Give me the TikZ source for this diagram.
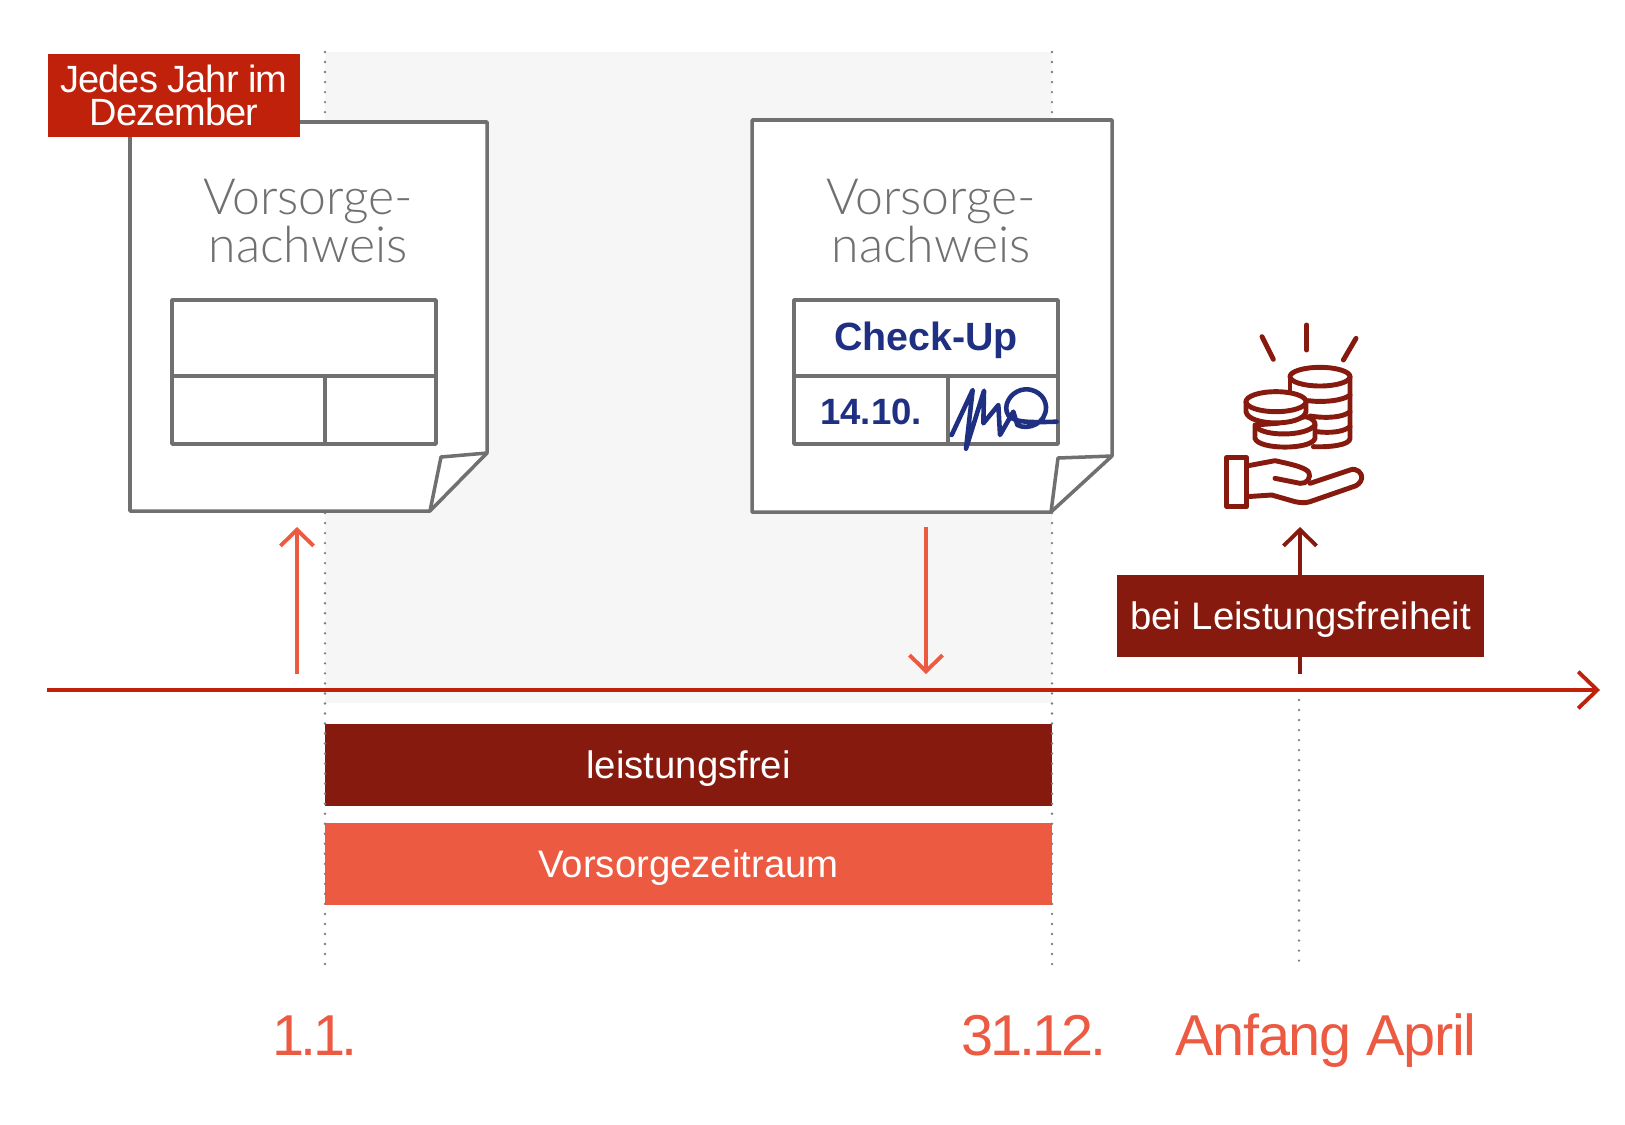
\documentclass[tikz,border=0pt]{standalone}
\usepackage{fontspec}
\setmainfont{Liberation Sans}
\newfontfamily\thinfont{Lato Light}
\usetikzlibrary{arrows.meta}
\definecolor{hellgrau}{HTML}{F6F6F6}
\definecolor{papiergrau}{HTML}{707070}
\definecolor{rot}{HTML}{C0210B}
\definecolor{dunkelrot}{HTML}{871A0E}
\definecolor{koralle}{HTML}{EC5A42}
\definecolor{tinte}{HTML}{1F2F82}
\tikzset{
	paper/.style={draw=papiergrau, fill=white, line width=1pt, line join=round},
	dots/.style={draw=papiergrau!90, line width=0.75pt, line cap=round, dash pattern=on 0pt off 2.85pt},
	pfeil/.style={-{Straight Barb[length=4.6pt, width=9.4pt]}, line width=1.1pt},
	bar/.style={inner sep=0pt, minimum width=7.27cm, minimum height=0.82cm, text=white, text height=7.4pt, text depth=0pt, font=\fontsize{10.9}{12}\selectfont},
	titel/.style={align=center, text=papiergrau, inner sep=0pt, font=\thinfont\fontsize{14.2}{13.9}\selectfont},
	datum/.style={text=koralle, inner sep=0pt, text height=12pt, text depth=0pt},
	icon/.style={draw=dunkelrot, line width=1.4pt, line cap=round, line join=round},
}
\begin{document}
\begin{tikzpicture}[x=0.01cm, y=-0.01cm]
	\useasboundingbox (0, 0) rectangle (1625, 1124);

	% Background
	\fill[hellgrau] (325, 52) rectangle (1052, 703);

	% Bars
	\node[bar, fill=dunkelrot] (leistungsfrei) at (688.5, 765) {leistungsfrei};
	\node[bar, fill=koralle] (vorsorgezeitraum) at (688.5, 864) {Vorsorgezeitraum};

	% Dotted lines
	\coordinate (jan top) at (325, 52);
	\coordinate (jan bottom) at (325, 968);
	\coordinate (dez top) at (1052, 52);
	\coordinate (dez bottom) at (1052, 968);
	\coordinate (apr top) at (1299, 690);
	\coordinate (apr bottom) at (1299, 968);
	\draw[dots] (jan top) -- (jan bottom);
	\draw[dots] (dez top) -- (dez bottom);
	\draw[dots] (apr top) -- (apr bottom);

	% Time axis
	\coordinate (achse start) at (47, 690);
	\coordinate (achse end) at (1600, 690);
	\draw[-{Straight Barb[length=5.4pt, width=10.4pt]}, rot, line width=1.1pt] (achse start) -- (achse end);

	% Document left
	\draw[paper] (130, 122) -- (487, 122) -- (487, 453) -- (430, 511) -- (130, 511) -- cycle;
	\draw[paper, fill=none] (487, 453) -- (441, 457) -- (430, 511);
	\node[titel] (titel links) at (308, 221) {Vorsorge-\\nachweis};
	\draw[paper] (172, 300) rectangle (436, 444);
	\draw[paper] (172, 376) -- (436, 376);
	\draw[paper] (325, 376) -- (325, 444);

	% Document right
	\draw[paper] (752, 120) -- (1112, 120) -- (1112, 456) -- (1051, 512) -- (752, 512) -- cycle;
	\draw[paper, fill=none] (1112, 456) -- (1058, 458) -- (1051, 512);
	\node[titel] (titel rechts) at (931, 221) {Vorsorge-\\nachweis};
	\draw[paper] (794, 300) rectangle (1058, 444);
	\draw[paper] (794, 376) -- (1058, 376);
	\draw[paper] (948, 376) -- (948, 444);
	\node[text=tinte, inner sep=0pt, font=\bfseries\fontsize{11.2}{12}\selectfont] (checkup) at (926, 340) {Check-Up};
	\node[text=tinte, inner sep=0pt, font=\bfseries\fontsize{10.4}{12}\selectfont] (datum check) at (871, 412) {14.10.};

	% Signature
	\begin{scope}[shift={(780, 290)}, scale=1/3]
		\draw[tinte, line width=1.3pt, line join=round, line cap=round] (515, 435) -- (578, 300) -- (558, 476) -- (612, 302) -- (610, 400) -- (655, 345) -- (660, 435) -- (700, 365) -- (712, 405) .. controls (745, 422) and (800, 400) .. (798, 350) .. controls (796, 315) and (762, 296) .. (735, 298) .. controls (700, 300) and (672, 335) .. (680, 365) .. controls (688, 398) and (740, 398) .. (830, 395);
	\end{scope}

	% Label top left
	\node[fill=rot, text=white, inner sep=0pt, minimum width=2.52cm, minimum height=0.83cm, align=center, font=\fontsize{10.8}{9.4}\selectfont\addfontfeature{LetterSpace=-2.5}] (dezember) at (174, 95.5) {Jedes Jahr im\\Dezember};

	% Arrows
	\coordinate (links unten) at (297, 674);
	\coordinate (links oben) at (297, 527);
	\coordinate (mitte oben) at (926, 527);
	\coordinate (mitte unten) at (926, 674);
	\coordinate (april unten) at (1300, 674);
	\coordinate (april oben) at (1300, 527);
	\draw[pfeil, koralle] (links unten) -- (links oben);
	\draw[pfeil, koralle] (mitte oben) -- (mitte unten);
	\draw[pfeil, dunkelrot] (april unten) -- (april oben);
	\node[fill=dunkelrot, text=white, inner sep=0pt, minimum width=3.67cm, minimum height=0.82cm, text height=7.4pt, text depth=0pt, font=\fontsize{10.9}{12}\selectfont] (freiheit) at (1300.5, 616) {bei Leistungsfreiheit};

	% Coins and hand
	\begin{scope}[shift={(1180, 310)}, scale=1/3]
		\draw[icon] (246, 80) -- (280, 148);
		\draw[icon] (380, 45) -- (380, 120);
		\draw[icon] (528, 85) -- (490, 150);
		\draw[icon] (420, 200) ellipse [x radius=90, y radius=28];
		\draw[icon] (510, 200) -- (510, 385) .. controls (510, 405) and (450, 412) .. (400, 410);
		\draw[icon] (330, 205) -- (330, 240);
		\draw[icon] (510, 255) .. controls (490, 272) and (430, 278) .. (385, 272);
		\draw[icon] (510, 305) .. controls (490, 322) and (440, 326) .. (390, 318);
		\draw[icon] (510, 350) .. controls (490, 366) and (450, 370) .. (410, 365);
		\draw[icon, fill=white] (225, 345) -- (225, 385) .. controls (235, 420) and (395, 420) .. (405, 385) -- (405, 340) .. controls (400, 325) and (385, 322) .. (375, 320) -- (290, 340) -- cycle;
		\draw[icon] (228, 350) .. controls (250, 380) and (380, 380) .. (405, 345);
		\draw[icon, fill=white] (198, 275) -- (198, 305) .. controls (205, 350) and (370, 350) .. (378, 305) -- (378, 275);
		\draw[icon, fill=white] (288, 275) ellipse [x radius=90, y radius=30];
		\draw[icon] (140, 443) rectangle (200, 590);
		\draw[icon] (200, 468) -- (285, 452) .. controls (330, 462) and (370, 470) .. (385, 485) .. controls (395, 505) and (380, 522) .. (360, 520) -- (285, 505);
		\draw[icon] (390, 520) -- (510, 480) .. controls (530, 472) and (548, 490) .. (545, 505) .. controls (543, 518) and (530, 528) .. (520, 530) -- (390, 575) .. controls (375, 580) and (360, 578) .. (345, 575) -- (275, 555) -- (200, 560);
	\end{scope}

	% Dates
	\node[datum, font=\fontsize{16.4}{20}\selectfont\addfontfeature{LetterSpace=-6}] (neujahr) at (315, 1034) {1.1.};
	\node[datum, font=\fontsize{16.4}{20}\selectfont\addfontfeature{LetterSpace=-5.5}] (silvester) at (1034, 1034) {31.12.};
	\node[datum, font=\fontsize{16.4}{20}\selectfont\addfontfeature{LetterSpace=-2.2}] (april) at (1326, 1034) {Anfang April};
\end{tikzpicture}
\end{document}
